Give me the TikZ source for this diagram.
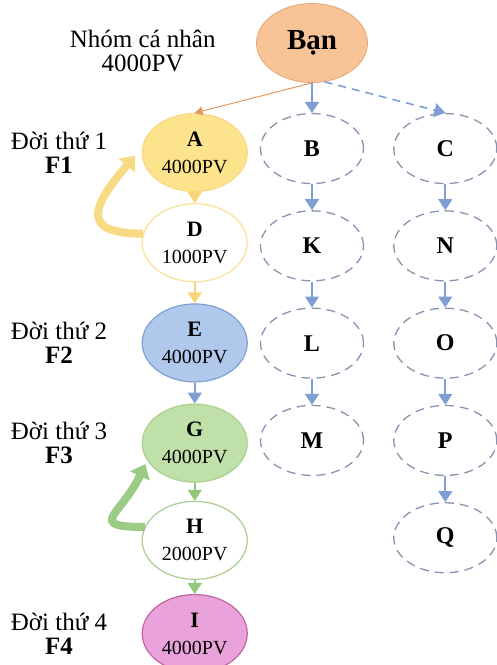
\documentclass[tikz,border=0pt]{standalone}
\usepackage{fontspec}
\setmainfont{Liberation Serif}
\usetikzlibrary{positioning, arrows.meta, shapes.geometric}

\definecolor{banfill}{HTML}{F8C497}
\definecolor{banline}{HTML}{E3A672}
\definecolor{afill}{HTML}{FDE38C}
\definecolor{aline}{HTML}{F8DA82}
\definecolor{dline}{HTML}{FAE196}
\definecolor{efill}{HTML}{AFC8EC}
\definecolor{eline}{HTML}{809FD2}
\definecolor{gfill}{HTML}{BFE0A8}
\definecolor{gline}{HTML}{AAD290}
\definecolor{hline}{HTML}{A9CC95}
\definecolor{ifill}{HTML}{E9A3DA}
\definecolor{iline}{HTML}{C4649F}
\definecolor{slotline}{HTML}{8594B0}
\definecolor{bluearrow}{HTML}{7E9ED4}
\definecolor{yellowarrow}{HTML}{F8D677}
\definecolor{greenarrow}{HTML}{93C87B}
\definecolor{orangearrow}{HTML}{E39A62}
\definecolor{yband}{HTML}{F9DA84}
\definecolor{gband}{HTML}{9CCB86}

\newcommand{\pvtext}[2]{{\fontsize{22}{22}\selectfont\bfseries #1}\\#2}

\begin{document}
\begin{tikzpicture}
		[
		font=\fontsize{25}{24}\selectfont,
		root/.style ={ellipse, draw=banline, fill=banfill, thick, inner sep=0pt, minimum width=111pt, minimum height=79pt, font=\fontsize{29}{29}\selectfont\bfseries},
		pv/.style ={ellipse, line width=1.2pt, inner sep=0pt, minimum width=105pt, minimum height=78pt, align=center, font=\fontsize{20}{27}\selectfont},
		openslot/.style ={ellipse, draw=slotline, line width=1.3pt, dash pattern=on 9pt off 6pt, inner sep=0pt, minimum width=103pt, minimum height=70pt, font=\fontsize{24}{24}\selectfont\bfseries},
		flowarrow/.style ={-{Triangle[width=14pt, length=11pt]}, line width=1.6pt},
		backarrow/.style ={-{Triangle[width=21pt, length=13pt]}, line width=8pt, shorten >=4pt}
		]
		\useasboundingbox (-312pt,43pt) rectangle (185pt,-622pt);
		\node[] (ban) [root] {Bạn};
		\node[left=37pt of ban, yshift=-8pt] (group) [align=center] {Nhóm cá nhân\\4000PV};
		% dashed slots
		\node[below=30pt of ban] (b) [openslot] {B};
		\node[right=29pt of b] (c) [openslot] {C};
		\node[below=26pt of b] (k) [openslot] {K};
		\node[below=26pt of k] (l) [openslot] {L};
		\node[below=26pt of l] (m) [openslot] {M};
		\node[below=26pt of c] (n) [openslot] {N};
		\node[below=26pt of n] (o) [openslot] {O};
		\node[below=26pt of o] (p) [openslot] {P};
		\node[below=26pt of p] (q) [openslot] {Q};
		% main line
		\node[left=12pt of b, yshift=-4pt] (a) [pv, fill=afill, draw=aline] {\pvtext{A}{4000PV}};
		\node[below=11pt of a] (d) [pv, fill=white, draw=dline] {\pvtext{D}{1000PV}};
		\node[below=21pt of d] (e) [pv, fill=efill, draw=eline] {\pvtext{E}{4000PV}};
		\node[below=21pt of e] (g) [pv, fill=gfill, draw=gline] {\pvtext{G}{4000PV}};
		\node[below=18pt of g] (h) [pv, fill=white, draw=hline] {\pvtext{H}{2000PV}};
		\node[below=14pt of h] (i) [pv, fill=ifill, draw=iline] {\pvtext{I}{4000PV}};
		\node[left=31pt of a] (f1) [align=center] {Đời thứ 1\\\textbf{F1}};
		\node[left=31pt of e] (f2) [align=center] {Đời thứ 2\\\textbf{F2}};
		\node[left=31pt of g] (f3) [align=center] {Đời thứ 3\\\textbf{F3}};
		\node[left=31pt of i] (f4) [align=center] {Đời thứ 4\\\textbf{F4}};
		% arrows
		\draw[-{Triangle[width=9pt, length=8pt]}, line width=1pt, color=orangearrow] (ban.south) -- (a.north);
		\draw[flowarrow, color=bluearrow] (ban.south) -- (b.north);
		\draw[flowarrow, color=bluearrow, dash pattern=on 8pt off 6pt] (ban.-72) -- (c.north);
		\foreach \x/\y in {b/k, k/l, l/m, c/n, n/o, o/p, p/q}
			\draw[flowarrow, color=bluearrow] (\x) -- (\y);
		\draw[flowarrow, color=yellowarrow] (a) -- (d);
		\draw[flowarrow, color=yellowarrow] (d) -- (e);
		\draw[flowarrow, color=bluearrow] (e) -- (g);
		\draw[flowarrow, color=greenarrow] (g) -- (h);
		\draw[flowarrow, color=greenarrow] (h) -- (i);
		\draw[backarrow, color=yband] (d.170) to[out=180, in=230, looseness=2.1] ([xshift=-4pt]a.west);
		\draw[backarrow, color=gband] (h.165) to[out=180, in=245, looseness=2.3] (g.200);
	\end{tikzpicture}
\end{document}
